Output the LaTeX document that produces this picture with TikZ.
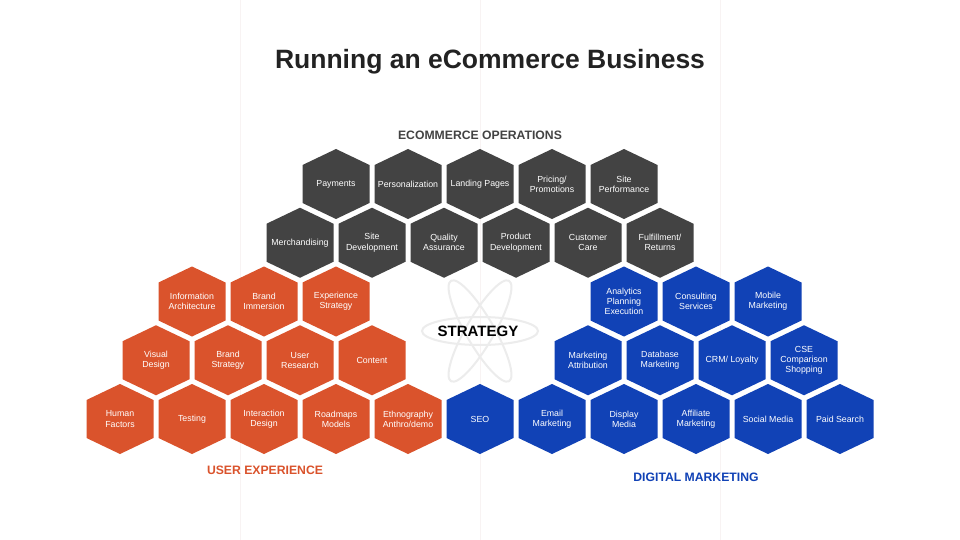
\documentclass[tikz,border=0pt]{standalone}
\usepackage{fontspec}
\setmainfont{Liberation Sans}
\definecolor{OpsGray}{RGB}{67,67,67}
\definecolor{UxOrange}{RGB}{218,83,44}
\definecolor{DmBlue}{RGB}{17,66,182}
\definecolor{TitleInk}{RGB}{34,34,34}
\definecolor{GuideLine}{RGB}{248,243,243}
\definecolor{AtomGray}{RGB}{236,236,236}
\usepackage{tikz}
\usetikzlibrary{positioning}

\begin{document}
\begin{tikzpicture}[x=1pt,y=-1pt,
      hexlabel/.style={text=white,align=center,inner sep=0pt,font=\fontsize{8.8}{10.2}\selectfont},
      hexfill/.style={fill=#1},
      grouplabel/.style={anchor=base,font=\fontsize{12.2}{14}\selectfont\bfseries},
      guide/.style={draw=GuideLine,line width=0.8pt},
      orbit/.style={draw=AtomGray,line width=2pt}]
    \useasboundingbox[fill=white] (0,0) rectangle (960,540);
    \foreach \gx in {240,480,720} \draw[guide] (\gx,0) -- (\gx,540);
    % atom behind the strategy label
    \foreach \r in {0,60,120} \draw[orbit,rotate around={\r:(480,331)}] (480,331) ellipse (58 and 14);
    \node[anchor=base,font=\fontsize{26.5}{30}\selectfont\bfseries,text=TitleInk] (title) at (490,69) {Running an eCommerce Business};
    % ecommerce operations
    \foreach \n/\x/\y/\t in {op1/336/184/{Payments},op2/408/184/{Personalization},op3/480/184/{Landing Pages},
        op4/552/184/{Pricing/\\Promotions},op5/624/184/{Site\\Performance},
        op6/300/242.75/{Merchandising},op7/372/242.75/{Site\\Development},op8/444/242.75/{Quality\\Assurance},
        op9/516/242.75/{Product\\Development},op10/588/242.75/{Customer\\Care},op11/660/242.75/{Fulfillment/\\Returns}} {
      \fill[hexfill=OpsGray] (\x,\y) +(0,-35) -- +(33.5,-19) -- +(33.5,19) -- +(0,35) -- +(-33.5,19) -- +(-33.5,-19) -- cycle;
      \node[hexlabel] (\n) at (\x,\y) {\t};
    }
    % user experience
    \foreach \n/\x/\y/\t in {ux1/192/301.5/{Information\\Architecture},ux2/264/301.5/{Brand\\Immersion},ux3/336/301.5/{Experience\\Strategy},
        ux4/156/360.25/{Visual\\Design},ux5/228/360.25/{Brand\\Strategy},ux6/300/360.25/{User\\Research},ux7/372/360.25/{Content},
        ux8/120/419/{Human\\Factors},ux9/192/419/{Testing},ux10/264/419/{Interaction\\Design},ux11/336/419/{Roadmaps\\Models},
        ux12/408/419/{Ethnography\\Anthro/demo}} {
      \fill[hexfill=UxOrange] (\x,\y) +(0,-35) -- +(33.5,-19) -- +(33.5,19) -- +(0,35) -- +(-33.5,19) -- +(-33.5,-19) -- cycle;
      \node[hexlabel] (\n) at (\x,\y) {\t};
    }
    % digital marketing
    \foreach \n/\x/\y/\t in {dm1/624/301.5/{Analytics\\Planning\\Execution},dm2/696/301.5/{Consulting\\Services},dm3/768/301.5/{Mobile\\Marketing},
        dm4/588/360.25/{Marketing\\Attribution},dm5/660/360.25/{Database\\Marketing},dm6/732/360.25/{CRM/ Loyalty},dm7/804/360.25/{CSE\\Comparison\\Shopping},
        dm8/480/419/{SEO},dm9/552/419/{Email\\Marketing},dm10/624/419/{Display\\Media},dm11/696/419/{Affiliate\\Marketing},
        dm12/768/419/{Social Media},dm13/840/419/{Paid Search}} {
      \fill[hexfill=DmBlue] (\x,\y) +(0,-35) -- +(33.5,-19) -- +(33.5,19) -- +(0,35) -- +(-33.5,19) -- +(-33.5,-19) -- cycle;
      \node[hexlabel] (\n) at (\x,\y) {\t};
    }
    \node[grouplabel,text=OpsGray] (opslabel) at (480,140) {ECOMMERCE OPERATIONS};
    \node[grouplabel,text=UxOrange] (uxlabel) at (265,474.5) {USER EXPERIENCE};
    \node[grouplabel,text=DmBlue] (dmlabel) at (696,481) {DIGITAL MARKETING};
    \node[anchor=base,font=\fontsize{15}{17}\selectfont\bfseries,text=black] (strategy) at (478,336.5) {STRATEGY};
  \end{tikzpicture}
\end{document}
